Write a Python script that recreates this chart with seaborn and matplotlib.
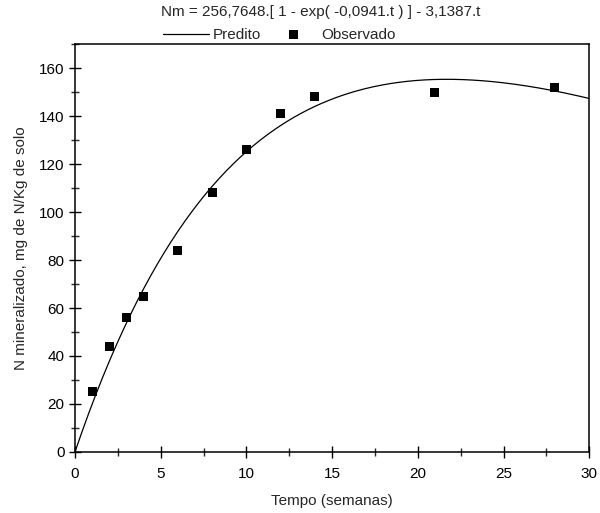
import numpy as np
import pandas as pd
import seaborn as sns
import matplotlib
matplotlib.use("Agg")
import matplotlib.pyplot as plt
from matplotlib.ticker import MultipleLocator

# Observed mineralized N over time
tempo_obs = [1, 2, 3, 4, 6, 8, 10, 12, 14, 21, 28]
n_obs = [25, 44, 56, 65, 84, 108, 126, 141, 148, 150, 152]

# Fitted model parameters: Nm = N0 * [1 - exp(-k t)] - b t
N0 = 256.7648
k = 0.0941
b = 3.1387

sns.set_theme(style="ticks")
plt.rcParams["font.family"] = ["Liberation Sans", "DejaVu Sans"]

t = np.linspace(0, 30, 301)
pred = pd.DataFrame({"t": t, "Nm": N0 * (1 - np.exp(-k * t)) - b * t})
obs = pd.DataFrame({"t": tempo_obs, "Nm": n_obs})

fig = plt.figure(figsize=(6.0, 5.13), dpi=100)
ax = fig.add_axes([0.125, 0.119, 0.857, 0.795])

sns.lineplot(data=pred, x="t", y="Nm", ax=ax, color="black", linewidth=0.9,
             label="Predito")
sns.scatterplot(data=obs, x="t", y="Nm", ax=ax, marker="s", color="black",
                s=42, edgecolor="none", label="Observado", zorder=3)

ax.set_xlim(0, 30)
ax.set_ylim(0, 170)
ax.xaxis.set_major_locator(MultipleLocator(5))
ax.xaxis.set_minor_locator(MultipleLocator(2.5))
ax.yaxis.set_major_locator(MultipleLocator(20))
ax.yaxis.set_minor_locator(MultipleLocator(10))
ax.tick_params(which="major", direction="inout", length=9, width=1,
               labelsize=11, colors="black")
ax.tick_params(axis="x", which="major", pad=6)
ax.tick_params(axis="y", which="major", pad=3)
ax.tick_params(which="minor", direction="inout", length=6, width=1)
ax.tick_params(top=False, right=False, which="both")
for sp in ax.spines.values():
    sp.set_linewidth(1.1)
    sp.set_color("black")

ax.set_xlabel("Tempo (semanas)", fontsize=11, labelpad=10)
ax.set_ylabel("N mineralizado, mg de N/Kg de solo", fontsize=11, labelpad=8)

fig.text(0.535, 0.977, "Nm = 256,7648.[ 1 - exp( -0,0941.t ) ] - 3,1387.t",
         ha="center", va="center", fontsize=11)
ax.legend(loc="center", bbox_to_anchor=(0.465, 0.932),
          bbox_transform=fig.transFigure, ncol=2,
          frameon=False, fontsize=11, handlelength=3.0, handletextpad=0.3,
          columnspacing=0.6, borderaxespad=0, borderpad=0)

fig.savefig("out.png", dpi=100, facecolor="white")
